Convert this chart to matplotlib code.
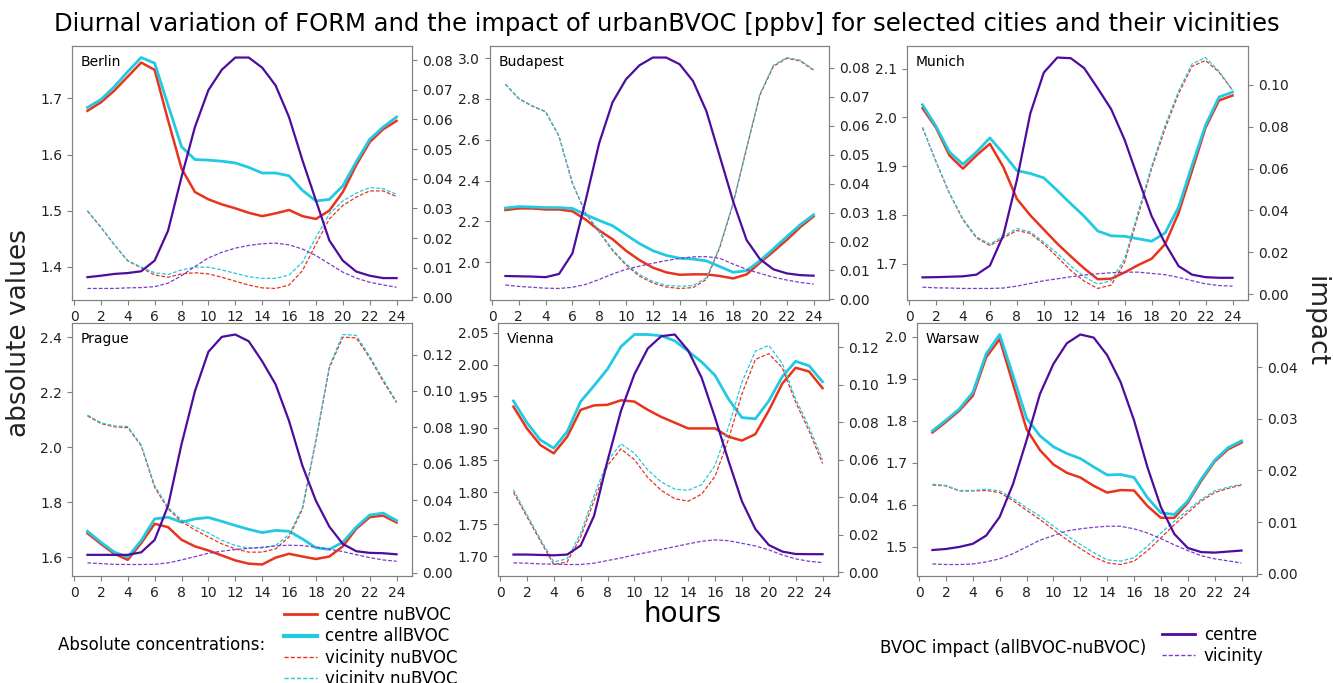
import matplotlib
matplotlib.use("Agg")
import matplotlib.pyplot as plt
from matplotlib.lines import Line2D

hours = list(range(1, 25))
cities = ["Berlin", "Budapest", "Munich", "Prague", "Vienna", "Warsaw"]

# absolute values (ppbv): c = centre, v = vicinity; nu = nuBVOC, all = allBVOC
berlin_c_nu = [1.678, 1.693, 1.714, 1.739, 1.764, 1.751, 1.661, 1.575, 1.533, 1.520, 1.511, 1.504,
               1.496, 1.490, 1.495, 1.501, 1.490, 1.485, 1.500, 1.533, 1.581, 1.622, 1.645, 1.660]
berlin_c_all = [1.684, 1.698, 1.721, 1.748, 1.773, 1.763, 1.688, 1.614, 1.591, 1.590, 1.588, 1.585,
                1.577, 1.567, 1.567, 1.562, 1.536, 1.517, 1.520, 1.544, 1.587, 1.627, 1.649, 1.667]
berlin_v_nu = [1.499, 1.470, 1.439, 1.410, 1.398, 1.385, 1.381, 1.387, 1.389, 1.387, 1.381, 1.374,
               1.367, 1.362, 1.361, 1.367, 1.393, 1.440, 1.485, 1.509, 1.524, 1.535, 1.535, 1.525]
berlin_v_all = [1.500, 1.471, 1.439, 1.411, 1.399, 1.389, 1.386, 1.394, 1.399, 1.399, 1.394, 1.388,
                1.382, 1.379, 1.379, 1.385, 1.408, 1.452, 1.494, 1.517, 1.531, 1.541, 1.539, 1.529]
berlin_c_imp = [0.0068, 0.0073, 0.0079, 0.0082, 0.0088, 0.0124, 0.0225, 0.0406, 0.0575, 0.0699, 0.0768, 0.0809,
                0.0809, 0.0775, 0.0715, 0.0608, 0.0462, 0.0327, 0.0192, 0.0124, 0.0087, 0.0073, 0.0065, 0.0065]
berlin_v_imp = [0.0030, 0.0030, 0.0030, 0.0032, 0.0033, 0.0036, 0.0048, 0.0073, 0.0104, 0.0133, 0.0152, 0.0166,
                0.0175, 0.0181, 0.0183, 0.0177, 0.0163, 0.0141, 0.0113, 0.0085, 0.0065, 0.0051, 0.0042, 0.0034]

budapest_c_nu = [2.256, 2.264, 2.264, 2.259, 2.259, 2.250, 2.209, 2.156, 2.113, 2.057, 2.011, 1.974,
                 1.951, 1.939, 1.941, 1.941, 1.933, 1.921, 1.941, 1.998, 2.053, 2.110, 2.172, 2.225]
budapest_c_all = [2.266, 2.273, 2.271, 2.268, 2.268, 2.264, 2.233, 2.205, 2.179, 2.135, 2.092, 2.057,
                  2.034, 2.020, 2.016, 2.007, 1.979, 1.951, 1.959, 2.008, 2.066, 2.126, 2.184, 2.233]
budapest_v_nu = [2.872, 2.801, 2.765, 2.737, 2.617, 2.387, 2.238, 2.148, 2.057, 1.987, 1.932, 1.899,
                 1.879, 1.872, 1.876, 1.916, 2.073, 2.288, 2.558, 2.820, 2.960, 2.999, 2.986, 2.941]
budapest_v_all = [2.874, 2.803, 2.767, 2.739, 2.619, 2.389, 2.241, 2.152, 2.062, 1.993, 1.940, 1.907,
                  1.887, 1.883, 1.886, 1.924, 2.078, 2.292, 2.563, 2.825, 2.965, 3.003, 2.990, 2.944]
budapest_c_imp = [0.0081, 0.0080, 0.0079, 0.0077, 0.0088, 0.0159, 0.0344, 0.0540, 0.0681, 0.0760, 0.0808, 0.0835,
                  0.0835, 0.0812, 0.0754, 0.0650, 0.0494, 0.0338, 0.0205, 0.0139, 0.0104, 0.0090, 0.0084, 0.0082]
budapest_v_imp = [0.0050, 0.0045, 0.0042, 0.0039, 0.0038, 0.0042, 0.0052, 0.0069, 0.0088, 0.0104, 0.0115, 0.0125,
                  0.0134, 0.0142, 0.0147, 0.0148, 0.0142, 0.0122, 0.0104, 0.0090, 0.0077, 0.0067, 0.0059, 0.0053]

munich_c_nu = [2.019, 1.979, 1.922, 1.895, 1.922, 1.946, 1.898, 1.833, 1.799, 1.770, 1.741, 1.715,
               1.690, 1.668, 1.669, 1.682, 1.697, 1.710, 1.740, 1.804, 1.891, 1.979, 2.035, 2.045]
munich_c_all = [2.026, 1.982, 1.929, 1.904, 1.929, 1.958, 1.926, 1.891, 1.885, 1.876, 1.850, 1.823,
                1.797, 1.767, 1.757, 1.756, 1.751, 1.746, 1.763, 1.816, 1.902, 1.984, 2.042, 2.052]
munich_v_nu = [1.979, 1.909, 1.844, 1.790, 1.753, 1.737, 1.753, 1.768, 1.762, 1.740, 1.714, 1.686,
               1.664, 1.649, 1.656, 1.703, 1.799, 1.895, 1.977, 2.049, 2.105, 2.117, 2.093, 2.056]
munich_v_all = [1.980, 1.910, 1.845, 1.792, 1.755, 1.740, 1.756, 1.772, 1.765, 1.744, 1.721, 1.695,
                1.673, 1.658, 1.665, 1.710, 1.806, 1.900, 1.984, 2.054, 2.110, 2.123, 2.095, 2.056]
munich_c_imp = [0.0080, 0.0081, 0.0083, 0.0085, 0.0093, 0.0136, 0.0282, 0.0545, 0.0864, 0.1059, 0.1131, 0.1128,
                0.1080, 0.0984, 0.0884, 0.0737, 0.0553, 0.0373, 0.0242, 0.0134, 0.0093, 0.0081, 0.0078, 0.0078]
munich_v_imp = [0.0033, 0.0030, 0.0029, 0.0027, 0.0027, 0.0027, 0.0029, 0.0038, 0.0051, 0.0064, 0.0073, 0.0083,
                0.0091, 0.0097, 0.0102, 0.0105, 0.0105, 0.0099, 0.0093, 0.0080, 0.0064, 0.0049, 0.0041, 0.0038]

prague_c_nu = [1.687, 1.648, 1.612, 1.590, 1.651, 1.721, 1.709, 1.663, 1.639, 1.624, 1.606, 1.588,
               1.576, 1.573, 1.598, 1.612, 1.602, 1.593, 1.602, 1.639, 1.703, 1.745, 1.751, 1.726]
prague_c_all = [1.694, 1.654, 1.618, 1.600, 1.660, 1.739, 1.745, 1.727, 1.739, 1.744, 1.730, 1.715,
                1.701, 1.689, 1.697, 1.694, 1.666, 1.634, 1.628, 1.654, 1.709, 1.753, 1.760, 1.733]
prague_v_nu = [2.114, 2.086, 2.074, 2.071, 2.005, 1.854, 1.775, 1.729, 1.699, 1.673, 1.648, 1.630,
               1.618, 1.618, 1.630, 1.673, 1.775, 2.023, 2.289, 2.400, 2.398, 2.325, 2.240, 2.162]
prague_v_all = [2.117, 2.089, 2.077, 2.075, 2.008, 1.860, 1.781, 1.735, 1.709, 1.688, 1.661, 1.642,
                1.633, 1.633, 1.642, 1.682, 1.781, 2.029, 2.295, 2.410, 2.407, 2.331, 2.247, 2.166]
prague_c_imp = [0.0099, 0.0099, 0.0099, 0.0099, 0.0113, 0.0181, 0.0369, 0.0707, 0.0999, 0.1215, 0.1297, 0.1310,
                0.1273, 0.1163, 0.1036, 0.0835, 0.0588, 0.0396, 0.0254, 0.0159, 0.0119, 0.0110, 0.0108, 0.0102]
prague_v_imp = [0.0055, 0.0051, 0.0047, 0.0046, 0.0046, 0.0047, 0.0055, 0.0071, 0.0089, 0.0108, 0.0119, 0.0128,
                0.0135, 0.0141, 0.0148, 0.0152, 0.0150, 0.0141, 0.0130, 0.0117, 0.0100, 0.0084, 0.0071, 0.0064]

vienna_c_nu = [1.934, 1.900, 1.874, 1.861, 1.887, 1.929, 1.936, 1.937, 1.944, 1.942, 1.929, 1.918,
               1.909, 1.900, 1.900, 1.900, 1.887, 1.881, 1.891, 1.928, 1.970, 1.995, 1.989, 1.963]
vienna_c_all = [1.943, 1.909, 1.882, 1.869, 1.895, 1.942, 1.967, 1.993, 2.028, 2.047, 2.047, 2.045,
                2.037, 2.021, 2.004, 1.983, 1.946, 1.917, 1.915, 1.943, 1.981, 2.005, 1.998, 1.973]
vienna_v_nu = [1.800, 1.762, 1.724, 1.687, 1.691, 1.730, 1.787, 1.842, 1.868, 1.851, 1.823, 1.803,
               1.790, 1.786, 1.797, 1.825, 1.883, 1.954, 2.008, 2.017, 1.995, 1.941, 1.896, 1.845]
vienna_v_all = [1.804, 1.765, 1.727, 1.691, 1.696, 1.736, 1.795, 1.849, 1.876, 1.861, 1.835, 1.816,
                1.805, 1.803, 1.812, 1.842, 1.902, 1.972, 2.021, 2.030, 2.002, 1.946, 1.902, 1.851]
vienna_c_imp = [0.0094, 0.0094, 0.0092, 0.0090, 0.0094, 0.0142, 0.0301, 0.0594, 0.0860, 0.1055, 0.1193, 0.1258,
                0.1267, 0.1182, 0.1037, 0.0824, 0.0594, 0.0378, 0.0230, 0.0145, 0.0110, 0.0097, 0.0096, 0.0096]
vienna_v_imp = [0.0050, 0.0048, 0.0044, 0.0043, 0.0041, 0.0041, 0.0048, 0.0062, 0.0076, 0.0092, 0.0106, 0.0121,
                0.0136, 0.0151, 0.0165, 0.0172, 0.0168, 0.0154, 0.0140, 0.0119, 0.0092, 0.0071, 0.0058, 0.0051]

warsaw_c_nu = [1.772, 1.797, 1.824, 1.859, 1.951, 1.994, 1.887, 1.780, 1.730, 1.696, 1.676, 1.665,
               1.645, 1.629, 1.635, 1.634, 1.597, 1.569, 1.569, 1.605, 1.657, 1.703, 1.732, 1.748]
warsaw_c_all = [1.776, 1.801, 1.828, 1.867, 1.959, 2.005, 1.907, 1.806, 1.764, 1.738, 1.722, 1.710,
                1.690, 1.671, 1.672, 1.665, 1.617, 1.581, 1.577, 1.609, 1.661, 1.706, 1.736, 1.752]
warsaw_v_nu = [1.647, 1.645, 1.633, 1.633, 1.634, 1.629, 1.610, 1.587, 1.565, 1.541, 1.517, 1.496,
               1.476, 1.462, 1.458, 1.466, 1.491, 1.521, 1.553, 1.581, 1.609, 1.629, 1.639, 1.647]
warsaw_v_all = [1.649, 1.646, 1.634, 1.634, 1.637, 1.633, 1.615, 1.593, 1.573, 1.549, 1.527, 1.506,
                1.486, 1.469, 1.466, 1.474, 1.502, 1.533, 1.561, 1.587, 1.613, 1.633, 1.642, 1.649]
warsaw_c_imp = [0.0046, 0.0048, 0.0052, 0.0058, 0.0074, 0.0110, 0.0174, 0.0258, 0.0348, 0.0406, 0.0446, 0.0463,
                0.0457, 0.0423, 0.0371, 0.0297, 0.0206, 0.0129, 0.0077, 0.0050, 0.0042, 0.0041, 0.0043, 0.0045]
warsaw_v_imp = [0.0019, 0.0018, 0.0018, 0.0019, 0.0023, 0.0029, 0.0039, 0.0052, 0.0065, 0.0074, 0.0083, 0.0087,
                0.0090, 0.0092, 0.0092, 0.0087, 0.0079, 0.0068, 0.0056, 0.0045, 0.0035, 0.0029, 0.0025, 0.0021]

series = {
    "Berlin": (berlin_c_nu, berlin_c_all, berlin_v_nu, berlin_v_all, berlin_c_imp, berlin_v_imp),
    "Budapest": (budapest_c_nu, budapest_c_all, budapest_v_nu, budapest_v_all, budapest_c_imp, budapest_v_imp),
    "Munich": (munich_c_nu, munich_c_all, munich_v_nu, munich_v_all, munich_c_imp, munich_v_imp),
    "Prague": (prague_c_nu, prague_c_all, prague_v_nu, prague_v_all, prague_c_imp, prague_v_imp),
    "Vienna": (vienna_c_nu, vienna_c_all, vienna_v_nu, vienna_v_all, vienna_c_imp, vienna_v_imp),
    "Warsaw": (warsaw_c_nu, warsaw_c_all, warsaw_v_nu, warsaw_v_all, warsaw_c_imp, warsaw_v_imp),
}

RED = "#e8341c"
CYAN = "#22c9e2"
PURPLE = "#4c0c9e"
PURPLE_V = "#7a3cc9"
SPINE = "#808080"

# panel boxes in pixels (left, right, top, bottom)
W, H = 1333, 683
boxes = [(72, 412, 46, 300), (490, 829, 46, 300), (907, 1248, 46, 300),
         (72, 412, 323, 576), (498, 838, 323, 576), (917, 1257, 323, 576)]

fig = plt.figure(figsize=(W / 100, H / 100), dpi=100)

for city, (l, r, t, b) in zip(cities, boxes):
    c_nu, c_all, v_nu, v_all, c_imp, v_imp = series[city]
    ax = fig.add_axes([l / W, 1 - b / H, (r - l) / W, (b - t) / H])
    ax.plot(hours, c_nu, color=RED, lw=1.8)
    ax.plot(hours, c_all, color=CYAN, lw=2.0)
    ax.plot(hours, v_nu, color=RED, lw=0.9, ls="--", dashes=(3, 1.5))
    ax.plot(hours, v_all, color=CYAN, lw=0.9, ls="--", dashes=(3, 1.5))
    ax.set_xticks(range(0, 25, 2))
    ax.text(0.025, 0.965, city, transform=ax.transAxes, ha="left", va="top", fontsize=10)

    ax2 = ax.twinx()
    ax2.plot(hours, c_imp, color=PURPLE, lw=1.6)
    ax2.plot(hours, v_imp, color=PURPLE_V, lw=0.9, ls="--", dashes=(3, 1.5))

    for a in (ax, ax2):
        for s in a.spines.values():
            s.set_color(SPINE)
        a.tick_params(labelsize=10, color=SPINE, labelcolor="#222222")

fig.suptitle("Diurnal variation of FORM and the impact of urbanBVOC [ppbv] for selected cities and their vicinities",
             x=0.5, y=0.982, fontsize=17.5, va="top")
fig.text(0.014, 0.512, "absolute values", rotation=90, ha="center", va="center", fontsize=19, color="#222222")
fig.text(0.987, 0.53, "impact", rotation=270, ha="center", va="center", fontsize=19, color="#222222")
fig.text(683 / W, 1 - 614 / H, "hours", ha="center", va="center", fontsize=20)

# legend for absolute concentrations
abs_handles = [Line2D([], [], color=RED, lw=2),
               Line2D([], [], color=CYAN, lw=3),
               Line2D([], [], color=RED, lw=1, ls="--", dashes=(3, 1.5)),
               Line2D([], [], color=CYAN, lw=1, ls="--", dashes=(3, 1.5))]
abs_labels = ["centre nuBVOC", "centre allBVOC", "vicinity nuBVOC", "vicinity nuBVOC"]
fig.legend(abs_handles, abs_labels, loc="upper left", bbox_to_anchor=(284 / W, 1 - 606 / H),
           frameon=False, fontsize=12, labelspacing=0.2, handlelength=2.0, handletextpad=0.45,
           borderpad=0, borderaxespad=0)
fig.text(58 / W, 1 - 645 / H, "Absolute concentrations:", ha="left", va="center", fontsize=12)

# legend for the BVOC impact
imp_handles = [Line2D([], [], color=PURPLE, lw=2),
               Line2D([], [], color=PURPLE_V, lw=1, ls="--", dashes=(3, 1.5))]
fig.legend(imp_handles, ["centre", "vicinity"], loc="upper left", bbox_to_anchor=(1162 / W, 1 - 626 / H),
           frameon=False, fontsize=12, labelspacing=0.2, handlelength=2.0, handletextpad=0.5,
           borderpad=0, borderaxespad=0)
fig.text(880 / W, 1 - 648 / H, "BVOC impact (allBVOC-nuBVOC)", ha="left", va="center", fontsize=12)

fig.savefig("out.png", dpi=100)
